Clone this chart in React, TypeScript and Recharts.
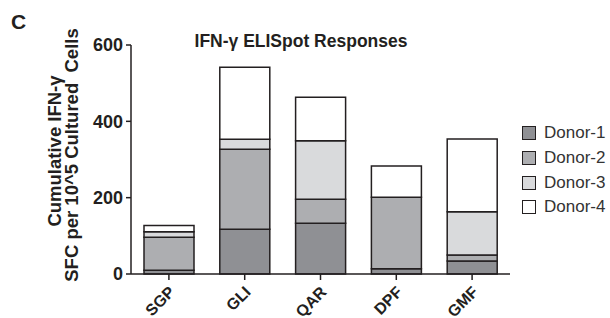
import React from 'react';
import { BarChart, Bar, XAxis, YAxis } from 'recharts';

const peptides = ['SGP', 'GLI', 'QAR', 'DPF', 'GMF'];
const donor1 = [10, 117, 133, 14, 34];
const donor2 = [86, 210, 63, 187, 16];
const donor3 = [15, 26, 153, 0, 113];
const donor4 = [16, 189, 114, 82, 191];
const yTicks = [0, 200, 400, 600];

const donors = [
  { key: 'd1', name: 'Donor-1', color: '#8f9094' },
  { key: 'd2', name: 'Donor-2', color: '#adaeb1' },
  { key: 'd3', name: 'Donor-3', color: '#d9dadc' },
  { key: 'd4', name: 'Donor-4', color: '#ffffff' },
];

const data = peptides.map((p, i) => ({
  name: p,
  d1: donor1[i],
  d2: donor2[i],
  d3: donor3[i],
  d4: donor4[i],
}));

const FONT = '"Liberation Sans", Arial, sans-serif';
const INK = '#231f20';

const XTick = (props: any) => {
  const { x, y, payload } = props;
  const tx = x + 7;
  const ty = y + 11;
  return (
    <text
      x={tx}
      y={ty}
      transform={`rotate(-45 ${tx} ${ty})`}
      textAnchor="end"
      fontFamily={FONT}
      fontWeight="bold"
      fontSize={16}
      fill={INK}
    >
      {payload.value}
    </text>
  );
};

const yLabelStyle = {
  fontFamily: FONT,
  fontWeight: 700,
  fontSize: 18.5,
  fill: INK,
  whiteSpace: 'pre' as const,
};

const LegendBox = () => (
  <div style={{ position: 'absolute', left: 522, top: 121, fontFamily: FONT }}>
    {donors.map((d) => (
      <div key={d.key} style={{ display: 'flex', alignItems: 'center', height: 24.7 }}>
        <div
          style={{
            width: 12,
            height: 12,
            background: d.color,
            border: `1.5px solid ${INK}`,
            marginRight: 8,
          }}
        />
        <span style={{ fontSize: 17, color: '#333' }}>{d.name}</span>
      </div>
    ))}
  </div>
);

export default function App() {
  return (
    <div style={{ position: 'absolute', left: 0, top: 0, width: 610, height: 318, background: '#fff' }}>
      <BarChart
        width={610}
        height={318}
        data={data}
        margin={{ top: 45, right: 100, bottom: 0, left: 0 }}
      >
        <text x={11} y={29} style={{ fontFamily: FONT, fontWeight: 700, fontSize: 21, fill: INK }}>C</text>
        <text x={301} y={47} textAnchor="middle" style={{ fontFamily: FONT, fontWeight: 700, fontSize: 17.5, fill: INK }}>
          IFN-γ ELISpot Responses
        </text>
        <text x={61} y={151} textAnchor="middle" transform="rotate(-90 61 151)" style={yLabelStyle}>
          Cumulative IFN-γ
        </text>
        <text x={78} y={155} textAnchor="middle" transform="rotate(-90 78 155)" style={yLabelStyle}>
          SFC per 10^5 Cultured  Cells
        </text>
        <XAxis
          dataKey="name"
          height={44}
          axisLine={{ stroke: INK, strokeWidth: 1.5 }}
          tickLine={{ stroke: INK, strokeWidth: 1.5 }}
          tickSize={6}
          tick={<XTick />}
          interval={0}
        />
        <YAxis
          width={131}
          domain={[0, 600]}
          ticks={yTicks}
          axisLine={{ stroke: INK, strokeWidth: 1.5 }}
          tickLine={{ stroke: INK, strokeWidth: 1.5 }}
          tickSize={5}
          tickMargin={3}
          tick={{ fontFamily: FONT, fontWeight: 'bold', fontSize: 18, fill: INK }}
        />
        {donors.map((d) => (
          <Bar
            key={d.key}
            dataKey={d.key}
            name={d.name}
            stackId="a"
            fill={d.color}
            stroke={INK}
            strokeWidth={1.5}
            barSize={50}
            isAnimationActive={false}
          />
        ))}
      </BarChart>
      <LegendBox />
    </div>
  );
}
